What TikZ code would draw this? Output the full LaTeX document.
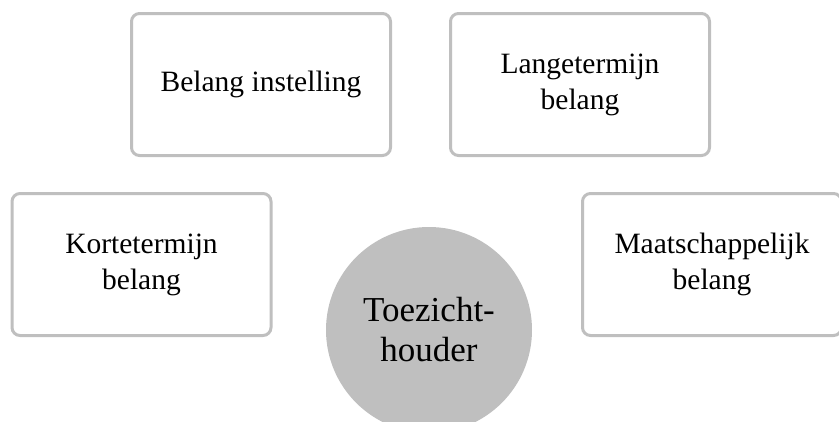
\documentclass[tikz,border=0pt]{standalone}
\usepackage{fontspec}
\setmainfont{Liberation Serif}
\usetikzlibrary{positioning}

\begin{document}
\begin{tikzpicture}[
    x=1pt, y=-1pt,
    box/.style={draw=gray!50, line width=3pt, rounded corners=8pt, fill=white,
        minimum width=259pt, minimum height=142pt, align=center,
        font=\fontsize{29.5}{36}\selectfont},
    hub/.style={circle, fill=gray!50, minimum size=206pt, inner sep=0pt,
        align=center, font=\fontsize{35}{40}\selectfont}
]

% Fix the page size
\useasboundingbox (0,0) rectangle (839,421);

% Interest boxes
\node[box] (instelling) at (261, 84.5) {Belang instelling};
\node[box] (lang) at (580, 84.5) {Langetermijn\\belang};
\node[box] (kort) at (141.5, 264.5) {Kortetermijn\\belang};
\node[box] (maatschappij) at (712, 264.5) {Maatschappelijk\\belang};

% Central circle
\node[hub] (toezicht) at (429, 330) {Toezicht-\\houder};

\end{tikzpicture}
\end{document}
